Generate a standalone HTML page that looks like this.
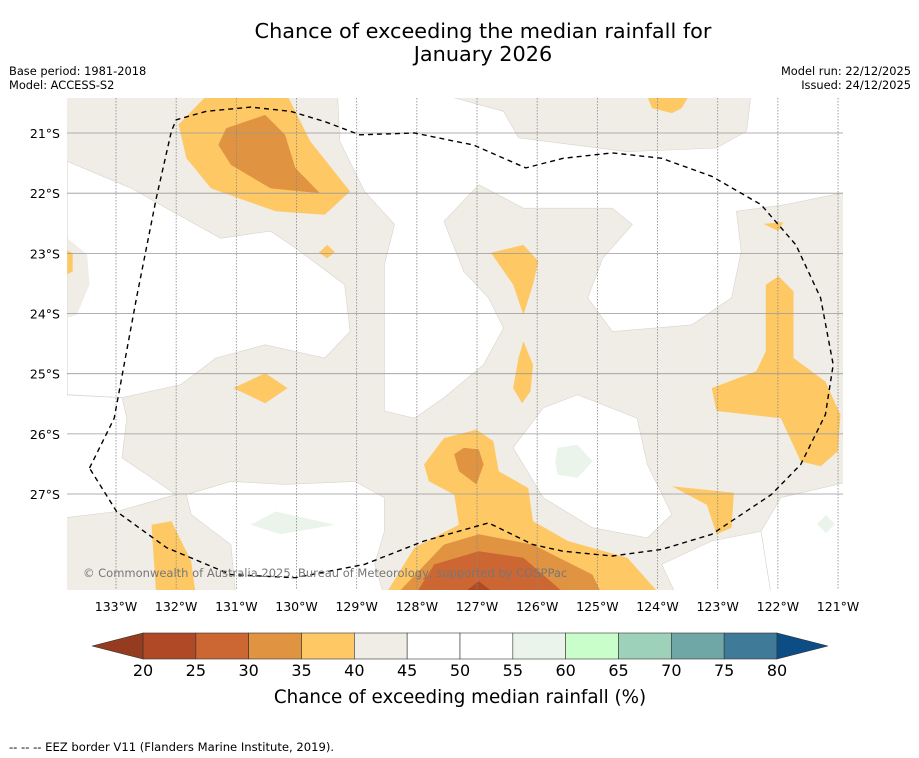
<!DOCTYPE html>
<html><head><meta charset="utf-8"><style>
body{margin:0;background:#fff;font-family:"DejaVu Sans","Liberation Sans",sans-serif;}
svg{display:block}
</style></head><body>
<svg id="chart" width="919" height="758" xmlns="http://www.w3.org/2000/svg" font-family="DejaVu Sans, Liberation Sans, sans-serif">
<text x="483" y="38" font-size="20.8" text-anchor="middle">Chance of exceeding the median rainfall for</text>
<text x="483" y="61" font-size="20.8" text-anchor="middle">January 2026</text>
<text x="9" y="75" font-size="11.4">Base period: 1981-2018</text>
<text x="9" y="89" font-size="11.4">Model: ACCESS-S2</text>
<text x="911" y="75" font-size="11.4" text-anchor="end">Model run: 22/12/2025</text>
<text x="911" y="89" font-size="11.4" text-anchor="end">Issued: 24/12/2025</text>
<defs><clipPath id="mapclip"><rect x="67" y="98" width="776" height="492"/></clipPath></defs>
<g id="map" clip-path="url(#mapclip)"></g>
<g id="axes"></g>
<g id="cbar"></g>
<text x="460" y="703" font-size="18.3" text-anchor="middle">Chance of exceeding median rainfall (%)</text>
<text x="9" y="751" font-size="11.6">--  --  -- EEZ border V11 (Flanders Marine Institute, 2019).</text>
</svg>
<script>
const lonTicks=[-133,-132,-131,-130,-129,-128,-127,-126,-125,-124,-123,-122,-121];
const latTicks=[-21,-22,-23,-24,-25,-26,-27];
const cbarTicks=[20,25,30,35,40,45,50,55,60,65,70,75,80];
const cbarColors=["#b04a26","#cc6633","#e09442","#fec965","#f0ece6","#ffffff","#ffffff","#eaf4ea","#c9fdc9","#9dd1b9","#6fa6a6","#3f7a98"];
const cbarUnder="#953b1f", cbarOver="#0d4d86";
const BEIGE="#f0ece6",WHITE="#ffffff",GREEN="#eaf4ea",ORANGE="#fec965",DORANGE="#e09442",RORANGE="#cc6633",RED="#b04a26";
const regions=[
 [WHITE,[[-133.81,-21.47],[-132.74,-21.92],[-132.16,-22.25],[-131.26,-22.75],[-130.43,-22.63],[-130.02,-22.91],[-129.2,-23.52],[-129.11,-24.3],[-129.53,-24.74],[-130.52,-24.52],[-131.34,-24.74],[-131.92,-25.18],[-132.9,-25.4],[-133.81,-25.35]]],
 [BEIGE,[[-133.81,-22.75],[-133.48,-23.02],[-133.44,-23.52],[-133.65,-24.02],[-133.81,-24.07]]],
 [ORANGE,[[-133.81,-22.95],[-133.72,-23.0],[-133.72,-23.3],[-133.81,-23.35]]],
 [WHITE,[[-129.32,-20.3],[-127.8,-20.3],[-126.56,-20.64],[-126.31,-21.08],[-124.5,-21.31],[-123.02,-21.25],[-122.52,-20.97],[-122.44,-20.3],[-120.8,-20.3],[-120.8,-21.97],[-121.87,-22.19],[-122.69,-22.3],[-122.61,-22.97],[-122.77,-23.74],[-123.43,-24.19],[-124.75,-24.3],[-125.16,-23.74],[-124.91,-23.08],[-124.42,-22.52],[-124.75,-22.25],[-126.23,-22.25],[-126.97,-21.86],[-127.55,-22.47],[-127.22,-23.3],[-126.81,-23.74],[-126.56,-24.24],[-126.89,-24.85],[-127.55,-25.4],[-128.04,-25.74],[-128.54,-25.62],[-128.54,-24.3],[-128.54,-23.19],[-128.37,-22.52],[-128.87,-21.97],[-129.28,-21.14]]],
 [WHITE,[[-125.9,-25.57],[-125.33,-25.35],[-124.34,-25.74],[-124.17,-26.51],[-123.76,-27.34],[-124.17,-27.73],[-125.08,-27.56],[-125.9,-27.06],[-126.4,-26.23]]],
 [GREEN,[[-125.66,-26.23],[-125.33,-26.18],[-125.08,-26.46],[-125.33,-26.73],[-125.66,-26.68],[-125.7,-26.46]]],
 [WHITE,[[-131.83,-27.01],[-131.09,-26.79],[-130.19,-26.84],[-129.03,-26.79],[-128.54,-27.06],[-128.54,-27.62],[-128.7,-28.17],[-128.54,-28.7],[-131.01,-28.7],[-131.09,-27.84],[-131.75,-27.34]]],
 [GREEN,[[-130.76,-27.51],[-130.35,-27.29],[-129.36,-27.51],[-130.27,-27.67]]],
 [WHITE,[[-133.9,-25.35],[-132.9,-25.4],[-132.82,-25.74],[-132.9,-26.4],[-132.0,-27.01],[-132.99,-27.29],[-133.9,-27.4]]],
 [WHITE,[[-121.95,-27.06],[-120.8,-26.79],[-120.8,-28.7],[-122.11,-28.7],[-122.28,-27.62]]],
 [WHITE,[[-123.93,-28.17],[-123.1,-27.78],[-122.28,-27.62],[-122.11,-28.7],[-123.68,-28.7]]],
 [GREEN,[[-121.2,-27.35],[-121.05,-27.5],[-121.2,-27.65],[-121.35,-27.5]]],
 [ORANGE,[[-131.42,-20.3],[-130.19,-20.3],[-129.77,-21.14],[-129.11,-21.97],[-129.53,-22.36],[-130.35,-22.3],[-131.42,-21.92],[-131.83,-21.42],[-131.96,-20.86]]],
 [DORANGE,[[-131.17,-20.92],[-130.52,-20.7],[-130.19,-21.03],[-130.02,-21.58],[-129.61,-22.0],[-130.43,-21.92],[-131.09,-21.53],[-131.3,-21.2]]],
 [ORANGE,[[-124.21,-20.3],[-123.43,-20.3],[-123.6,-20.59],[-123.76,-20.67],[-124.09,-20.59]]],
 [ORANGE,[[-129.49,-22.86],[-129.63,-22.99],[-129.49,-23.08],[-129.36,-22.98]]],
 [ORANGE,[[-126.77,-22.99],[-126.23,-22.86],[-125.98,-23.13],[-126.07,-23.52],[-126.23,-24.02],[-126.4,-23.52]]],
 [ORANGE,[[-126.23,-24.46],[-126.07,-24.85],[-126.11,-25.29],[-126.25,-25.49],[-126.4,-25.24],[-126.31,-24.74]]],
 [ORANGE,[[-131.05,-25.24],[-130.52,-24.99],[-130.15,-25.24],[-130.52,-25.49]]],
 [ORANGE,[[-122.2,-23.52],[-121.99,-23.38],[-121.74,-23.63],[-121.74,-24.74],[-121.21,-25.13],[-120.96,-25.68],[-121.0,-26.29],[-121.29,-26.54],[-121.62,-26.46],[-121.95,-25.74],[-123.02,-25.62],[-123.1,-25.24],[-122.36,-24.96],[-122.2,-24.63]]],
 [ORANGE,[[-122.24,-22.51],[-121.91,-22.48],[-121.99,-22.63]]],
 [ORANGE,[[-123.76,-26.87],[-122.73,-26.98],[-122.77,-27.56],[-123.02,-27.67],[-123.18,-27.18]]],
 [ORANGE,[[-132.41,-27.51],[-132.08,-27.45],[-131.75,-28.12],[-131.67,-28.7],[-132.33,-28.7]]],
 [ORANGE,[[-127.88,-26.51],[-127.55,-26.07],[-127.01,-25.93],[-126.73,-26.12],[-126.64,-26.62],[-126.15,-26.9],[-126.07,-27.45],[-125.49,-27.78],[-124.5,-28.06],[-123.93,-28.7],[-128.54,-28.7],[-128.04,-27.89],[-127.3,-27.51],[-127.38,-27.01],[-127.8,-26.79]]],
 [DORANGE,[[-127.38,-26.34],[-127.22,-26.23],[-126.97,-26.26],[-126.89,-26.51],[-127.01,-26.84],[-127.3,-26.62]]],
 [DORANGE,[[-127.55,-27.84],[-126.97,-27.67],[-126.07,-27.84],[-125.08,-28.34],[-124.91,-28.7],[-128.37,-28.7]]],
 [RORANGE,[[-127.71,-28.17],[-126.97,-27.95],[-126.23,-28.06],[-125.49,-28.7],[-128.04,-28.7]]],
 [RED,[[-126.97,-28.45],[-126.64,-28.7],[-127.3,-28.7]]]
];
const eezLine=[[-133.44,-26.57],[-133.03,-25.74],[-132.66,-23.74],[-132.33,-22.08],[-132.08,-20.97],[-132.0,-20.78],[-131.5,-20.64],[-130.76,-20.57],[-130.1,-20.64],[-129.53,-20.81],[-128.95,-21.03],[-128.04,-21.0],[-127.06,-21.2],[-126.19,-21.58],[-125.57,-21.42],[-124.75,-21.33],[-123.93,-21.42],[-123.1,-21.72],[-122.28,-22.19],[-121.7,-22.86],[-121.29,-23.74],[-121.08,-24.85],[-121.21,-25.68],[-121.62,-26.51],[-122.11,-27.01],[-123.1,-27.67],[-123.93,-27.92],[-124.75,-28.03],[-125.57,-27.95],[-126.07,-27.84],[-126.81,-27.48],[-127.88,-27.78],[-128.87,-28.17],[-130.02,-28.39],[-131.09,-28.34],[-132.16,-27.89],[-132.99,-27.29],[-133.44,-26.57]];

const NS="http://www.w3.org/2000/svg";
const X0=116, DX=60.17, Y0=133, DY=60.17;
function xs(lon){return X0+(lon+133)*DX;}
function ys(lat){return Y0+(-21-lat)*DY;}
function mk(tag,attrs,parent){const e=document.createElementNS(NS,tag);for(const k in attrs)e.setAttribute(k,attrs[k]);parent.appendChild(e);return e;}
const map=document.getElementById('map');
const bg=mk('rect',{x:67,y:98,width:776,height:492,fill:BEIGE},map);


regions.forEach((r,i)=>{
  const p=mk('polygon',{points:r[1].map(q=>xs(q[0]).toFixed(1)+','+ys(q[1]).toFixed(1)).join(' '),fill:r[0],stroke:r[0]===WHITE?"#d8d4cf":"none","stroke-width":0.6},map);
  
  
});
latTicks.forEach(v=>{
  const l=mk('line',{x1:67,x2:843,y1:ys(v),y2:ys(v),stroke:"#999",'stroke-width':0.8},map);
  
  
});
lonTicks.forEach(v=>{
  const l=mk('line',{x1:xs(v),x2:xs(v),y1:98,y2:590,stroke:"#888",'stroke-width':0.8,'stroke-dasharray':'1.5,1.5'},map);
  
  
});
const eez=mk('polyline',{points:eezLine.map(q=>xs(q[0]).toFixed(1)+','+ys(q[1]).toFixed(1)).join(' '),fill:'none',stroke:'#000','stroke-width':1.4,'stroke-dasharray':'5,4'},map);


const cr=mk('text',{x:83,y:577,'font-size':11.5,fill:'#777'},map);
cr.textContent='© Commonwealth of Australia 2025, Bureau of Meteorology, supported by COSPPac';


const axes=document.getElementById('axes');
latTicks.forEach(v=>{
  const t=mk('text',{x:60,y:ys(v)+5,'font-size':12.5,'text-anchor':'end'},axes);
  t.textContent=Math.abs(v)+'°S';
  
  
});
lonTicks.forEach(v=>{
  const t=mk('text',{x:xs(v),y:611,'font-size':12.5,'text-anchor':'middle'},axes);
  t.textContent=Math.abs(v)+'°W';
  
  
});
const cb=document.getElementById('cbar');
const CX0=143, CW=(777-143)/cbarColors.length, CY=633, CH=26;
cbarColors.forEach((c,i)=>{
  const r=mk('rect',{x:CX0+i*CW,y:CY,width:CW,height:CH,fill:c,stroke:'#333','stroke-width':0.6},cb);
  
  
});
const ul=mk('polygon',{points:`${CX0},${CY} ${CX0},${CY+CH} 92,${CY+CH/2}`,fill:cbarUnder,stroke:'#333','stroke-width':0.6},cb);


const ol=mk('polygon',{points:`777,${CY} 777,${CY+CH} 828,${CY+CH/2}`,fill:cbarOver,stroke:'#333','stroke-width':0.6},cb);


cbarTicks.forEach((v,i)=>{
  const t=mk('text',{x:CX0+i*CW,y:676,'font-size':16,'text-anchor':'middle'},cb);
  t.textContent=v;
  
  
});
</script>
</body></html>
